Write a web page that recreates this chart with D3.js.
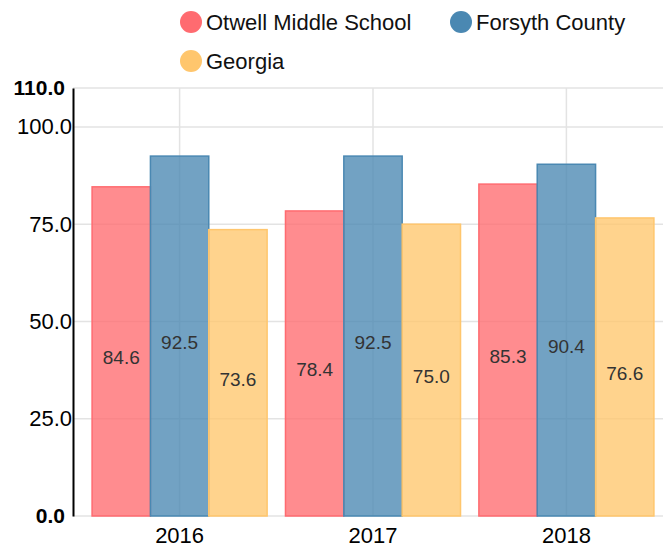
<!DOCTYPE html>
<html>
<head>
<meta charset="utf-8">
<script src="https://cdn.jsdelivr.net/npm/d3@7"></script>
<style>
  body { margin: 0; background: #fff; }
  svg { font-family: "Liberation Sans", Arial, sans-serif; }
</style>
</head>
<body>
<svg id="chart" width="664" height="547"></svg>
<script>
// Chart data
const years = ['2016', '2017', '2018'];
const seriesNames = ['Otwell Middle School', 'Forsyth County', 'Georgia'];
const otwell = [84.6, 78.4, 85.3];
const forsyth = [92.5, 92.5, 90.4];
const georgia = [73.6, 75.0, 76.6];
const yTicks = [0, 25, 50, 75, 100, 110];

const colors = ['#ff6b70', '#4a88b2', '#ffc66d'];
const seriesValues = [otwell, forsyth, georgia];

const svg = d3.select('#chart');
const margin = { top: 88, right: 1, bottom: 31, left: 73 };
const width = 664 - margin.left - margin.right;
const height = 547 - margin.top - margin.bottom;

const g = svg.append('g').attr('transform', `translate(${margin.left},${margin.top})`);

// Scales
const x0 = d3.scaleBand().domain(years).range([10, width]).paddingInner(0.095).paddingOuter(0.047);
const x1 = d3.scaleBand().domain(seriesNames).range([0, x0.bandwidth()]);
const y = d3.scaleLinear().domain([0, 110]).range([height, 0]);

// Grid lines
g.append('g')
  .selectAll('line')
  .data(yTicks)
  .enter()
  .append('line')
  .attr('x1', 0)
  .attr('x2', width)
  .attr('y1', d => y(d))
  .attr('y2', d => y(d))
  .attr('stroke', '#e3e3e3')
  .attr('stroke-width', 1.5);

g.append('g')
  .selectAll('line')
  .data(years)
  .enter()
  .append('line')
  .attr('x1', d => x0(d) + x0.bandwidth() / 2)
  .attr('x2', d => x0(d) + x0.bandwidth() / 2)
  .attr('y1', 0)
  .attr('y2', height)
  .attr('stroke', '#e3e3e3')
  .attr('stroke-width', 1.5);

// Bars
const rows = years.map((yr, i) => ({
  year: yr,
  values: seriesNames.map((name, s) => ({ name, s, value: seriesValues[s][i] }))
}));

const groups = g.selectAll('.year-group')
  .data(rows)
  .enter()
  .append('g')
  .attr('class', 'year-group')
  .attr('transform', d => `translate(${x0(d.year)},0)`);

groups.selectAll('rect')
  .data(d => d.values)
  .enter()
  .append('rect')
  .attr('x', d => x1(d.name))
  .attr('width', x1.bandwidth())
  .attr('y', d => y(d.value))
  .attr('height', d => height - y(d.value))
  .attr('fill', d => colors[d.s])
  .attr('fill-opacity', 0.78)
  .attr('stroke', d => colors[d.s])
  .attr('stroke-width', 1.5);

groups.selectAll('text')
  .data(d => d.values)
  .enter()
  .append('text')
  .attr('x', d => x1(d.name) + x1.bandwidth() / 2)
  .attr('y', d => (y(d.value) + height) / 2 + 13)
  .attr('text-anchor', 'middle')
  .attr('font-size', 19)
  .attr('fill', '#333')
  .text(d => d.value.toFixed(1));

// Y axis
const isBold = d => d === 0 || d === 110;
const yAxis = g.append('g')
  .call(d3.axisLeft(y).tickValues(yTicks).tickSize(0).tickPadding(1).tickFormat(d3.format('.1f')));
yAxis.select('.domain').attr('stroke', '#000').attr('stroke-width', 2);
yAxis.selectAll('text')
  .attr('font-size', d => isBold(d) ? 21 : 22)
  .attr('fill', '#000')
  .attr('x', d => isBold(d) ? -8 : -1)
  .attr('font-family', '"Liberation Sans", Arial, sans-serif')
  .attr('font-weight', d => isBold(d) ? 'bold' : 'normal');

// X axis labels
const xAxis = g.append('g')
  .attr('transform', `translate(0,${height})`)
  .call(d3.axisBottom(x0).tickSize(0).tickPadding(11));
xAxis.select('.domain').remove();
xAxis.selectAll('text')
  .attr('font-size', 22)
  .attr('fill', '#000')
  .attr('font-family', '"Liberation Sans", Arial, sans-serif');

// Legend
const legendItems = [
  { name: seriesNames[0], s: 0, x: 191, y: 22 },
  { name: seriesNames[1], s: 1, x: 461, y: 22 },
  { name: seriesNames[2], s: 2, x: 191, y: 61 }
];
const legend = svg.append('g').selectAll('g')
  .data(legendItems)
  .enter()
  .append('g')
  .attr('transform', d => `translate(${d.x},${d.y})`);
legend.append('circle')
  .attr('r', 11)
  .attr('fill', d => colors[d.s]);
legend.append('text')
  .attr('x', 15)
  .attr('dy', '0.35em')
  .attr('font-size', 22)
  .attr('fill', '#111')
  .text(d => d.name);
</script>
</body>
</html>
